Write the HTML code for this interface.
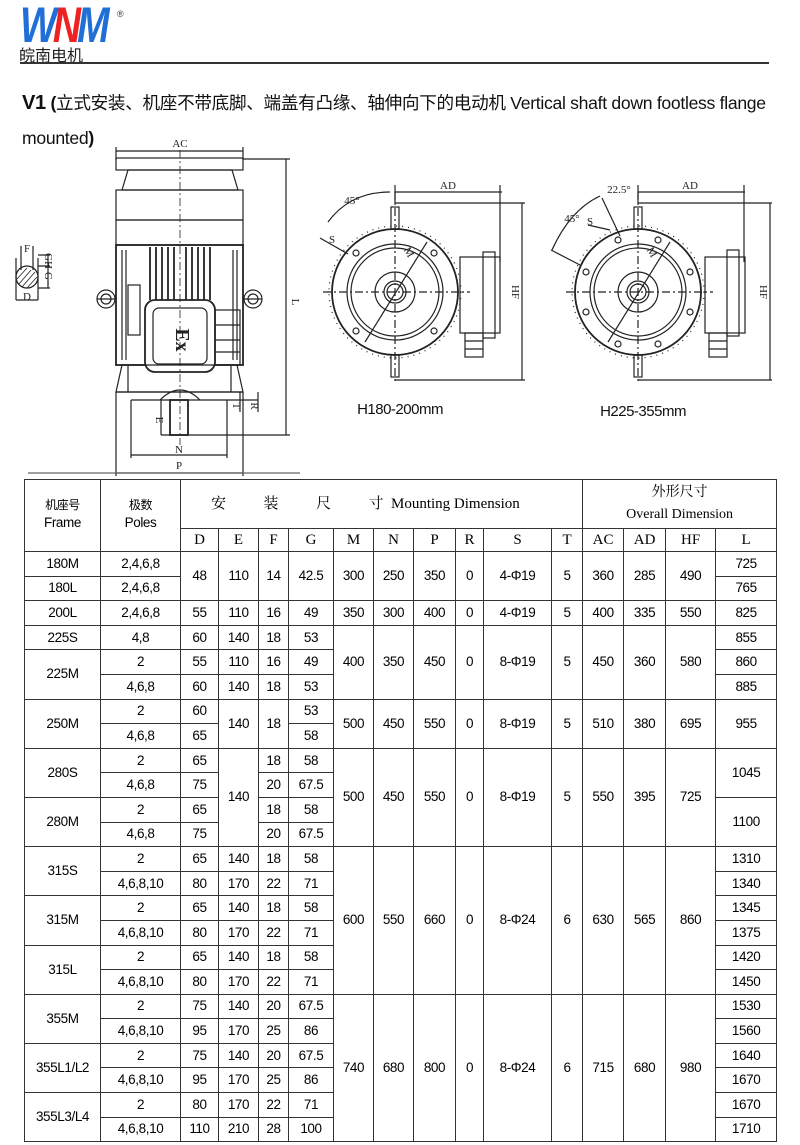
<!DOCTYPE html>
<html><head><meta charset="utf-8">
<style>
html,body{margin:0;padding:0;background:#fff;}
body{width:800px;height:1145px;position:relative;overflow:hidden;font-family:"Liberation Sans","Noto Sans CJK SC",sans-serif;color:#111;}
.abs{position:absolute;}
table{position:absolute;left:24px;top:479px;width:752px;border-collapse:collapse;table-layout:fixed;}
td{border:1px solid #333;text-align:center;vertical-align:middle;padding:0;font-size:13.5px;letter-spacing:-0.4px;line-height:14px;white-space:nowrap;overflow:hidden;color:#000;}
tr.d td{height:23.6px;}
.serif{font-family:"Liberation Serif","Noto Serif CJK SC",serif;letter-spacing:0;}
.h2 td{font-family:"Liberation Serif",serif;font-size:15px;height:22px;letter-spacing:0;}
</style></head><body>
<!-- logo -->
<div class="abs" style="left:20px;top:0px;font:italic bold 50px/50px 'Liberation Sans',sans-serif;letter-spacing:-5px;transform:scaleX(0.78);transform-origin:left;color:#1f6fd6;">W<span style="color:#e22">N</span>M</div>
<div class="abs" style="left:117px;top:9px;font-size:9px;color:#333;">®</div>
<div class="abs" style="left:19px;top:45px;font-size:16px;line-height:18px;font-family:'Noto Sans CJK SC',sans-serif;color:#222;letter-spacing:0;">皖南电机</div>
<div class="abs" style="left:20px;top:62px;width:749px;height:2px;background:#333;"></div>
<div class="abs" style="left:22px;top:90px;font-size:17.6px;line-height:26px;white-space:nowrap;letter-spacing:-0.3px;"><b style="font-size:20px;">V1</b> <b>(</b>立式安装、机座不带底脚、端盖有凸缘、轴伸向下的电动机 Vertical shaft down footless flange</div>
<div class="abs" style="left:22px;top:125px;font-size:17.6px;line-height:26px;letter-spacing:-0.3px;">mounted<b>)</b></div>

<svg class="abs" style="left:0;top:0" width="800" height="480" viewBox="0 0 800 480">
<g fill="none" stroke="#222" stroke-width="1.2">
<!-- front view -->
<line x1="116" y1="151" x2="243" y2="151"/><line x1="116" y1="147" x2="116" y2="160"/><line x1="243" y1="147" x2="243" y2="160"/>
<line x1="243" y1="159" x2="290" y2="159"/>
<rect x="116" y="158" width="127" height="12"/>
<polygon points="128,170 232,170 238,190 122,190"/>
<rect x="116" y="190" width="127" height="30"/>
<rect x="116" y="220" width="127" height="25"/>
<rect x="116" y="245" width="127" height="120" stroke-width="1.8"/>
<path d="M122 250 V360 M126 250 V360 M233 250 V360 M237 250 V360"/>
<path d="M150 247V300 M156 247V300 M162 247V300 M168 247V300 M174 247V300 M186 247V300 M192 247V300 M198 247V300 M204 247V300 M210 247V300" stroke-width="1.8"/>
<rect x="128" y="285" width="12" height="50"/>
<rect x="145" y="300" width="70" height="72" rx="10" fill="#fff" stroke-width="1.8"/>
<rect x="153" y="308" width="54" height="56" rx="6"/>
<rect x="215" y="310" width="25" height="55"/>
<path d="M215 325H240 M215 340H240 M215 352H240"/>
<circle cx="106" cy="299" r="9"/><circle cx="106" cy="299" r="5"/>
<circle cx="253" cy="299" r="9"/><circle cx="253" cy="299" r="5"/>
<path d="M115 299H97 M244 299H262"/>
<polygon points="122,365 237,365 243,392 116,392"/>
<line x1="128" y1="366" x2="128" y2="392"/><line x1="231" y1="366" x2="231" y2="392"/>
<line x1="116" y1="392" x2="243" y2="392"/>
<line x1="131" y1="400" x2="258" y2="400"/>
<path d="M160 400 Q180 380 200 400"/>
<rect x="170" y="400" width="18" height="35" stroke-width="1.8"/>
<line x1="161" y1="400" x2="161" y2="435"/><line x1="161" y1="435" x2="290" y2="435"/>
<line x1="116" y1="392" x2="116" y2="476"/><line x1="243" y1="392" x2="243" y2="476"/>
<line x1="131" y1="400" x2="131" y2="458"/><line x1="227" y1="400" x2="227" y2="458"/>
<line x1="131" y1="455" x2="227" y2="455"/>
<line x1="116" y1="473" x2="243" y2="473"/>
<line x1="286" y1="159" x2="286" y2="435"/>
<line x1="240" y1="392" x2="240" y2="412"/><line x1="258" y1="392" x2="258" y2="412"/>
<line x1="28" y1="473" x2="300" y2="473" stroke="#666"/>
<line x1="180" y1="150" x2="180" y2="445" stroke-dasharray="8 3 2 3" stroke-width="0.8"/>
<!-- shaft section -->
<circle cx="27" cy="277" r="11" stroke-width="1.3"/>
<path d="M19 284 L31 270 M22 287 L35 272 M17 279 L27 268 M27 288 L37 277" stroke-width="0.8"/>
<path d="M16 258V300 M38 258V300 M16 300H38 M21 246V270 M33 246V270 M38 255H50 M38 266H50 M38 288H50 M48 255V288"/>
<!-- circle view 1 -->
<g transform="translate(395,292)">
<circle r="63" stroke-width="1.8"/><circle r="66" stroke-dasharray="1 5"/>
<circle r="48"/><circle r="44"/><circle r="20"/><circle r="11"/><circle r="8"/>
<line x1="-72" y1="0" x2="75" y2="0" stroke-dasharray="8 3 2 3"/>
<line x1="0" y1="-100" x2="0" y2="92" stroke-dasharray="8 3 2 3"/>
<rect x="-4" y="-85" width="8" height="22"/><rect x="-4" y="63" width="8" height="22"/>
<line x1="-30" y1="50" x2="32" y2="-50"/>
<circle cx="39" cy="-39" r="3"/><circle cx="-39" cy="39" r="3"/><circle cx="-39" cy="-39" r="3"/><circle cx="39" cy="39" r="3"/>
</g>
<rect x="460" y="257" width="40" height="76"/><rect x="483" y="252" width="12" height="86"/>
<rect x="465" y="333" width="18" height="24"/><path d="M465 341H483 M465 349H483"/>
<path d="M395 192H502 M395 185V203 M500 185V262 M395 203H525 M522 203V380 M395 380H525"/>
<path d="M328 222 Q350 192 390 192"/><path d="M320 238 L348 254"/>
<!-- circle view 2 -->
<g transform="translate(638,292)">
<circle r="63" stroke-width="1.8"/><circle r="66" stroke-dasharray="1 5"/>
<circle r="48"/><circle r="44"/><circle r="20"/><circle r="11"/><circle r="8"/>
<line x1="-72" y1="0" x2="75" y2="0" stroke-dasharray="8 3 2 3"/>
<line x1="0" y1="-100" x2="0" y2="92" stroke-dasharray="8 3 2 3"/>
<rect x="-4" y="-85" width="8" height="22"/><rect x="-4" y="63" width="8" height="22"/>
<line x1="-30" y1="50" x2="32" y2="-50"/>
<circle cx="20" cy="-52" r="3"/><circle cx="52" cy="-20" r="3"/><circle cx="52" cy="20" r="3"/><circle cx="20" cy="52" r="3"/>
<circle cx="-20" cy="-52" r="3"/><circle cx="-52" cy="-20" r="3"/><circle cx="-52" cy="20" r="3"/><circle cx="-20" cy="52" r="3"/>
</g>
<rect x="705" y="257" width="40" height="76"/><rect x="727" y="250" width="12" height="86"/>
<rect x="709" y="333" width="18" height="24"/><path d="M709 341H727 M709 349H727"/>
<path d="M638 192H745 M638 185V203 M744 185V262 M638 203H772 M770 203V380 M638 380H772"/>
<path d="M552 250 Q570 210 600 196"/><path d="M551 250 L580 265"/><path d="M602 198 L620 236"/>
<path d="M588 225 L610 230"/>
</g>
<g font-family="Liberation Serif,serif" font-size="11" fill="#222" text-anchor="middle">
<text x="180" y="147">AC</text>
<text x="292" y="302" transform="rotate(90 292 302)">L</text>
<text x="156" y="420" transform="rotate(90 156 420)">E</text>
<text x="179" y="453">N</text>
<text x="179" y="469">P</text>
<text x="233" y="406" transform="rotate(90 233 406)">T</text>
<text x="251" y="406" transform="rotate(90 251 406)">R</text>
<text x="27" y="252">F</text>
<text x="45" y="261" transform="rotate(90 45 261)">GH</text>
<text x="45" y="276" transform="rotate(90 45 276)">G</text>
<text x="27" y="300">D</text>
<text x="448" y="189">AD</text><text x="352" y="204">45°</text><text x="332" y="243">S</text>
<text x="512" y="292" transform="rotate(90 512 292)">HF</text>
<text x="406" y="254" transform="rotate(60 406 254)">M</text>
<text x="690" y="189">AD</text><text x="619" y="193">22.5°</text><text x="572" y="222">45°</text><text x="590" y="225">S</text>
<text x="760" y="292" transform="rotate(90 760 292)">HF</text>
<text x="649" y="254" transform="rotate(60 649 254)">M</text>
<text x="180" y="344" font-size="20" font-weight="bold" transform="rotate(90 180 340)">Ex</text>
</g>
<g font-family="Liberation Sans,sans-serif" font-size="15" fill="#111" text-anchor="middle" letter-spacing="-0.5">
<text x="400" y="414">H180-200mm</text>
<text x="643" y="416">H225-355mm</text>
</g>
</svg>

<table>
<colgroup><col style="width:76px"><col style="width:80px"><col style="width:38px"><col style="width:40px"><col style="width:30px"><col style="width:45px"><col style="width:40px"><col style="width:40px"><col style="width:42px"><col style="width:28px"><col style="width:68px"><col style="width:31px"><col style="width:41px"><col style="width:42px"><col style="width:50px"><col style="width:61px"></colgroup>
<tr style="height:49px"><td rowspan="2"><span style="font-size:12px">机座号</span><br><span style="line-height:22px">Frame</span></td><td rowspan="2"><span style="font-size:12px">极数</span><br><span style="line-height:22px">Poles</span></td><td colspan="10" class="serif" style="font-size:15px;text-align:left;padding-left:30px">安&emsp;&emsp;&ensp;装&emsp;&emsp;&ensp;尺&emsp;&emsp;&ensp;寸&nbsp; Mounting Dimension</td><td colspan="4" class="serif" style="font-size:14px;line-height:22px">外形尺寸<br>Overall Dimension</td></tr>
<tr class="h2"><td>D</td><td>E</td><td>F</td><td>G</td><td>M</td><td>N</td><td>P</td><td>R</td><td>S</td><td>T</td><td>AC</td><td>AD</td><td>HF</td><td>L</td></tr>
<tr class="d"><td>180M</td><td>2,4,6,8</td><td rowspan="2">48</td><td rowspan="2">110</td><td rowspan="2">14</td><td rowspan="2">42.5</td><td rowspan="2">300</td><td rowspan="2">250</td><td rowspan="2">350</td><td rowspan="2">0</td><td rowspan="2">4-Φ19</td><td rowspan="2">5</td><td rowspan="2">360</td><td rowspan="2">285</td><td rowspan="2">490</td><td>725</td></tr>
<tr class="d"><td>180L</td><td>2,4,6,8</td><td>765</td></tr>
<tr class="d"><td>200L</td><td>2,4,6,8</td><td>55</td><td>110</td><td>16</td><td>49</td><td>350</td><td>300</td><td>400</td><td>0</td><td>4-Φ19</td><td>5</td><td>400</td><td>335</td><td>550</td><td>825</td></tr>
<tr class="d"><td>225S</td><td>4,8</td><td>60</td><td>140</td><td>18</td><td>53</td><td rowspan="3">400</td><td rowspan="3">350</td><td rowspan="3">450</td><td rowspan="3">0</td><td rowspan="3">8-Φ19</td><td rowspan="3">5</td><td rowspan="3">450</td><td rowspan="3">360</td><td rowspan="3">580</td><td>855</td></tr>
<tr class="d"><td rowspan="2">225M</td><td>2</td><td>55</td><td>110</td><td>16</td><td>49</td><td>860</td></tr>
<tr class="d"><td>4,6,8</td><td>60</td><td>140</td><td>18</td><td>53</td><td>885</td></tr>
<tr class="d"><td rowspan="2">250M</td><td>2</td><td>60</td><td rowspan="2">140</td><td rowspan="2">18</td><td>53</td><td rowspan="2">500</td><td rowspan="2">450</td><td rowspan="2">550</td><td rowspan="2">0</td><td rowspan="2">8-Φ19</td><td rowspan="2">5</td><td rowspan="2">510</td><td rowspan="2">380</td><td rowspan="2">695</td><td rowspan="2">955</td></tr>
<tr class="d"><td>4,6,8</td><td>65</td><td>58</td></tr>
<tr class="d"><td rowspan="2">280S</td><td>2</td><td>65</td><td rowspan="4">140</td><td>18</td><td>58</td><td rowspan="4">500</td><td rowspan="4">450</td><td rowspan="4">550</td><td rowspan="4">0</td><td rowspan="4">8-Φ19</td><td rowspan="4">5</td><td rowspan="4">550</td><td rowspan="4">395</td><td rowspan="4">725</td><td rowspan="2">1045</td></tr>
<tr class="d"><td>4,6,8</td><td>75</td><td>20</td><td>67.5</td></tr>
<tr class="d"><td rowspan="2">280M</td><td>2</td><td>65</td><td>18</td><td>58</td><td rowspan="2">1100</td></tr>
<tr class="d"><td>4,6,8</td><td>75</td><td>20</td><td>67.5</td></tr>
<tr class="d"><td rowspan="2">315S</td><td>2</td><td>65</td><td>140</td><td>18</td><td>58</td><td rowspan="6">600</td><td rowspan="6">550</td><td rowspan="6">660</td><td rowspan="6">0</td><td rowspan="6">8-Φ24</td><td rowspan="6">6</td><td rowspan="6">630</td><td rowspan="6">565</td><td rowspan="6">860</td><td>1310</td></tr>
<tr class="d"><td>4,6,8,10</td><td>80</td><td>170</td><td>22</td><td>71</td><td>1340</td></tr>
<tr class="d"><td rowspan="2">315M</td><td>2</td><td>65</td><td>140</td><td>18</td><td>58</td><td>1345</td></tr>
<tr class="d"><td>4,6,8,10</td><td>80</td><td>170</td><td>22</td><td>71</td><td>1375</td></tr>
<tr class="d"><td rowspan="2">315L</td><td>2</td><td>65</td><td>140</td><td>18</td><td>58</td><td>1420</td></tr>
<tr class="d"><td>4,6,8,10</td><td>80</td><td>170</td><td>22</td><td>71</td><td>1450</td></tr>
<tr class="d"><td rowspan="2">355M</td><td>2</td><td>75</td><td>140</td><td>20</td><td>67.5</td><td rowspan="6">740</td><td rowspan="6">680</td><td rowspan="6">800</td><td rowspan="6">0</td><td rowspan="6">8-Φ24</td><td rowspan="6">6</td><td rowspan="6">715</td><td rowspan="6">680</td><td rowspan="6">980</td><td>1530</td></tr>
<tr class="d"><td>4,6,8,10</td><td>95</td><td>170</td><td>25</td><td>86</td><td>1560</td></tr>
<tr class="d"><td rowspan="2">355L1/L2</td><td>2</td><td>75</td><td>140</td><td>20</td><td>67.5</td><td>1640</td></tr>
<tr class="d"><td>4,6,8,10</td><td>95</td><td>170</td><td>25</td><td>86</td><td>1670</td></tr>
<tr class="d"><td rowspan="2">355L3/L4</td><td>2</td><td>80</td><td>170</td><td>22</td><td>71</td><td>1670</td></tr>
<tr class="d"><td>4,6,8,10</td><td>110</td><td>210</td><td>28</td><td>100</td><td>1710</td></tr>
</table>
</body></html>
